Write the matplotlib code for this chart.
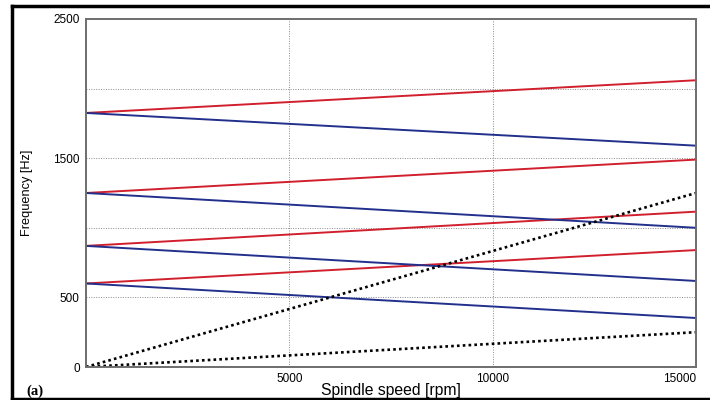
import matplotlib
matplotlib.use('Agg')
import matplotlib.pyplot as plt
from matplotlib.lines import Line2D

# spindle speed range [rpm]
speed = [0, 15000]

# natural frequencies at standstill and at 15000 rpm [Hz]
f_start = [600, 870, 1250, 1825]
f_forward_end = [840, 1116, 1490, 2060]
f_backward_end = [352, 618, 1000, 1590]

# excitation lines (1x and 5x spindle speed)
exc_1x = [0, 250]
exc_5x = [0, 1250]

xticks = [5000, 10000, 15000]
yticks = [0, 500, 1000, 1500, 2000, 2500]
ytick_labels = ['0', '500', '', '1500', '', '2500']

red = '#d11f2e'
blue = '#22308c'
spine_col = '#6e6e6e'

plt.rcParams['font.family'] = ['Liberation Sans', 'DejaVu Sans']

fig = plt.figure(figsize=(7.1, 4.0), dpi=100)
ax = fig.add_axes([86/710, 1 - 367/400, (696-86)/710, (367-19)/400])

for f0, fr, fb in zip(f_start, f_forward_end, f_backward_end):
    ax.plot(speed, [f0, fr], color=red, lw=1.4, solid_capstyle='butt')
    ax.plot(speed, [f0, fb], color=blue, lw=1.4, solid_capstyle='butt')

ax.plot(speed, exc_1x, color='black', lw=1.9, ls=(0, (1, 1.2)))
ax.plot(speed, exc_5x, color='black', lw=1.9, ls=(0, (1, 1.2)))

ax.set_xlim(0, 15000)
ax.set_ylim(0, 2500)
ax.set_xticks(xticks)
ax.set_xticklabels([str(t) for t in xticks])
ax.set_yticks(yticks)
ax.set_yticklabels(ytick_labels)
ax.tick_params(length=0, labelsize=8.5, colors='black', pad=4.5)
ax.get_xticklabels()[-1].set_ha('right')

ax.grid(True, color='#8a8a8a', lw=0.7, ls=(0, (1, 1.5)))
ax.set_axisbelow(True)
for s in ax.spines.values():
    s.set_color(spine_col)
    s.set_linewidth(1.4)

ax.set_xlabel('Spindle speed [rpm]', fontsize=11.3, va='center')
ax.xaxis.set_label_coords(0.5, -(390 - 367) / 348)
ax.set_ylabel('Frequency [Hz]', fontsize=9.2)
ax.yaxis.set_label_coords((33 - 86) / 610, 0.5)

fig.text(26/710, 1 - 391/400, '(a)', family=['Liberation Serif', 'DejaVu Serif'],
         fontsize=10.5, fontweight='bold', va='center')

# outer frame of the figure panel
fig.add_artist(Line2D([12/710, 1], [1 - 6/400, 1 - 6/400], color='black', lw=2.5,
                      transform=fig.transFigure))
fig.add_artist(Line2D([12/710, 12/710], [1 - 6/400, 1 - 398/400], color='black', lw=2.5,
                      transform=fig.transFigure))
fig.add_artist(Line2D([12/710, 1], [1 - 398.5/400, 1 - 398.5/400], color='black', lw=2.5,
                      transform=fig.transFigure))

fig.savefig('out.png', dpi=100)
